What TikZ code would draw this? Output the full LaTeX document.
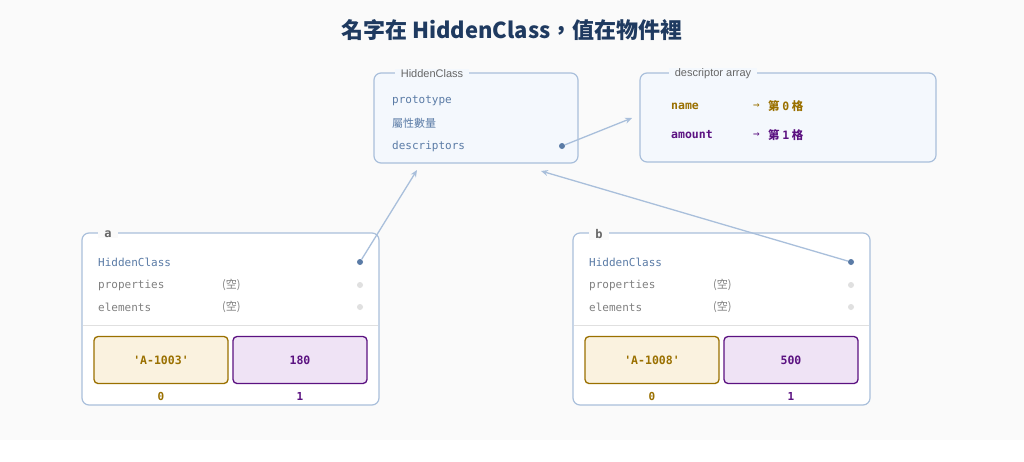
\documentclass[tikz,border=0pt]{standalone}
\usepackage{fontspec}
\setmainfont{Liberation Sans}
\setmonofont{DejaVu Sans Mono}
\newfontfamily\cjk{Noto Sans CJK TC}
\usetikzlibrary{positioning,arrows.meta}
\definecolor{boxline}{HTML}{A9BFDB}
\definecolor{boxfill}{HTML}{F4F8FD}
\definecolor{rowblue}{HTML}{5A7BA6}
\definecolor{gold}{HTML}{9A7000}
\definecolor{goldfill}{HTML}{FAF2DF}
\definecolor{plum}{HTML}{5B1281}
\definecolor{plumfill}{HTML}{EFE3F5}
\definecolor{titleblue}{HTML}{1F3A60}
\tikzset{
  panel/.style={draw=boxline, line width=1.2pt, rounded corners=7pt},
  tag/.style={fill=#1, text=gray!80!black, font=\fontsize{11}{13}\selectfont, inner xsep=6pt, inner ysep=1pt},
  row/.style={anchor=west, text=#1, font=\ttfamily\fontsize{11}{13}\selectfont, inner sep=0pt},
  dot/.style={circle, fill=#1, inner sep=0pt, minimum size=6pt},
  cell/.style={draw=#1, line width=1.3pt, rounded corners=4pt, minimum width=134pt, minimum height=47pt, font=\ttfamily\bfseries\fontsize{11.5}{13}\selectfont, text=#1},
  link/.style={draw=boxline, line width=1.3pt, -{Stealth[length=7pt,width=6pt]}}
}
\begin{document}
\begin{tikzpicture}[x=1pt, y=-1pt]
\useasboundingbox (0,0) rectangle (1024,461);
\fill[black!2] (0,0) rectangle (1024,440);
\node[text=titleblue, font=\cjk\bfseries\fontsize{22}{26}\selectfont] (title) at (512,30) {名字在 HiddenClass，值在物件裡};

% HiddenClass
\draw[panel, fill=boxfill] (374,73) rectangle (578,163);
\node[tag=boxfill] (hcTag) at (432,74) {HiddenClass};
\node[row=rowblue] (hcProto) at (392,101) {prototype};
\node[row=rowblue, font=\cjk\fontsize{11}{13}\selectfont] (hcCount) at (392,123) {屬性數量};
\node[row=rowblue] (hcDesc) at (392,146) {descriptors};
\node[dot=rowblue] (hcDot) at (562,146) {};
\coordinate (hcBottomA) at (417,170);
\coordinate (hcBottomB) at (541,171);

% descriptor array
\draw[panel, fill=boxfill] (640,73) rectangle (936,162);
\node[tag=boxfill] (daTag) at (713,74) {descriptor array};
\coordinate (daIn) at (632,118);
\node[row=gold, font=\ttfamily\bfseries\fontsize{11.5}{13}\selectfont] (daName) at (671,106) {name};
\node[row=gold] (daNameArr) at (753,106) {→};
\node[row=gold, font=\cjk\bfseries\fontsize{11.5}{13}\selectfont] (daNameSlot) at (768,106) {第\ \texttt{0}\ 格};
\node[row=plum, font=\ttfamily\bfseries\fontsize{11.5}{13}\selectfont] (daAmount) at (671,135) {amount};
\node[row=plum] (daAmountArr) at (753,135) {→};
\node[row=plum, font=\cjk\bfseries\fontsize{11.5}{13}\selectfont] (daAmountSlot) at (768,135) {第\ \texttt{1}\ 格};

\draw[link] (hcDot) -- (daIn);

% objects a and b
\foreach \nm/\dx/\str/\num in {a/0/A-1003/180, b/491/A-1008/500}{
  \begin{scope}[xshift=\dx]
  \draw[panel, fill=white] (82,233) rectangle (379,405);
  \node[tag=black!2, font=\ttfamily\bfseries\fontsize{12}{13}\selectfont] (\nm Tag) at (108,234) {\nm};
  \node[row=rowblue] (\nm Hc) at (98,262) {HiddenClass};
  \node[row=gray] (\nm Props) at (98,285) {properties};
  \node[row=gray] (\nm Elems) at (98,307) {elements};
  \node[row=gray, font=\cjk\fontsize{11}{13}\selectfont] (\nm PropsNone) at (222,285) {(空)};
  \node[row=gray, font=\cjk\fontsize{11}{13}\selectfont] (\nm ElemsNone) at (222,307) {(空)};
  \node[dot=rowblue] (\nm Dot) at (360,262) {};
  \node[dot=black!12] (\nm PropsDot) at (360,285) {};
  \node[dot=black!12] (\nm ElemsDot) at (360,307) {};
  \draw[black!12, line width=0.8pt] (83,325) -- (378,325);
  \node[cell=gold, fill=goldfill] (\nm Cell0) at (161,360) {'\str'};
  \node[cell=plum, fill=plumfill] (\nm Cell1) at (300,360) {\num};
  \node[text=gold, font=\ttfamily\bfseries\fontsize{11}{13}\selectfont] (\nm Idx0) at (161,396) {0};
  \node[text=plum, font=\ttfamily\bfseries\fontsize{11}{13}\selectfont] (\nm Idx1) at (300,396) {1};
  \end{scope}
}
\draw[link] (aDot) -- (hcBottomA);
\draw[link] (bDot) -- (hcBottomB);
\end{tikzpicture}
\end{document}
